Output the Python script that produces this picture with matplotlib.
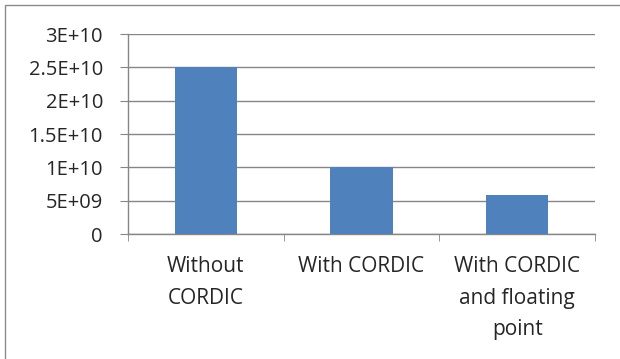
import matplotlib
matplotlib.use("Agg")
import matplotlib.pyplot as plt
from matplotlib.patches import Rectangle

categories = ["Without\nCORDIC", "With CORDIC", "With CORDIC\nand floating\npoint"]
values = [2.5e10, 1.0e10, 5.9e9]
yticks = [0, 5e9, 1e10, 1.5e10, 2e10, 2.5e10, 3e10]
ytick_labels = ["0", "5E+09", "1E+10", "1.5E+10", "2E+10", "2.5E+10", "3E+10"]

plt.rcParams['font.family'] = ['Open Sans', 'DejaVu Sans']
fig = plt.figure(figsize=(6.2, 3.59), dpi=100)
fig.patch.set_facecolor("white")

# outer chart border (only top and left visible)
fig.add_artist(Rectangle((5/620, -0.1), 1.2, 1 - 5/359 + 0.1, transform=fig.transFigure,
                         fill=False, edgecolor="#8c8c8c", linewidth=1.0))

ax = fig.add_axes([128/620, 1 - 234/359, (595 - 128)/620, (234 - 34)/359])
x = list(range(len(categories)))
ax.bar(x, values, width=0.4, color="#4F81BD", zorder=3)
ax.set_xlim(-0.5, 2.5)
ax.set_ylim(0, 3e10)
ax.set_yticks(yticks)
ax.set_yticklabels(ytick_labels)
ax.grid(axis="y", color="#868686", linewidth=1.0, zorder=0)
for s in ["top", "right"]:
    ax.spines[s].set_visible(False)
for s in ["left", "bottom"]:
    ax.spines[s].set_color("#868686")
    ax.spines[s].set_linewidth(1.0)
ax.tick_params(axis="y", length=6, color="#868686", labelsize=14.5, pad=12, labelcolor="#262626")
ax.set_xticks(x)
ax.set_xticklabels(categories, fontsize=15, color="#262626", linespacing=1.65)
ax.tick_params(axis="x", length=0, pad=16)
ax.set_xticks([-0.5, 0.5, 1.5, 2.5], minor=True)
ax.tick_params(axis="x", which="minor", length=5, color="#868686")

fig.savefig("out.png", dpi=100)
